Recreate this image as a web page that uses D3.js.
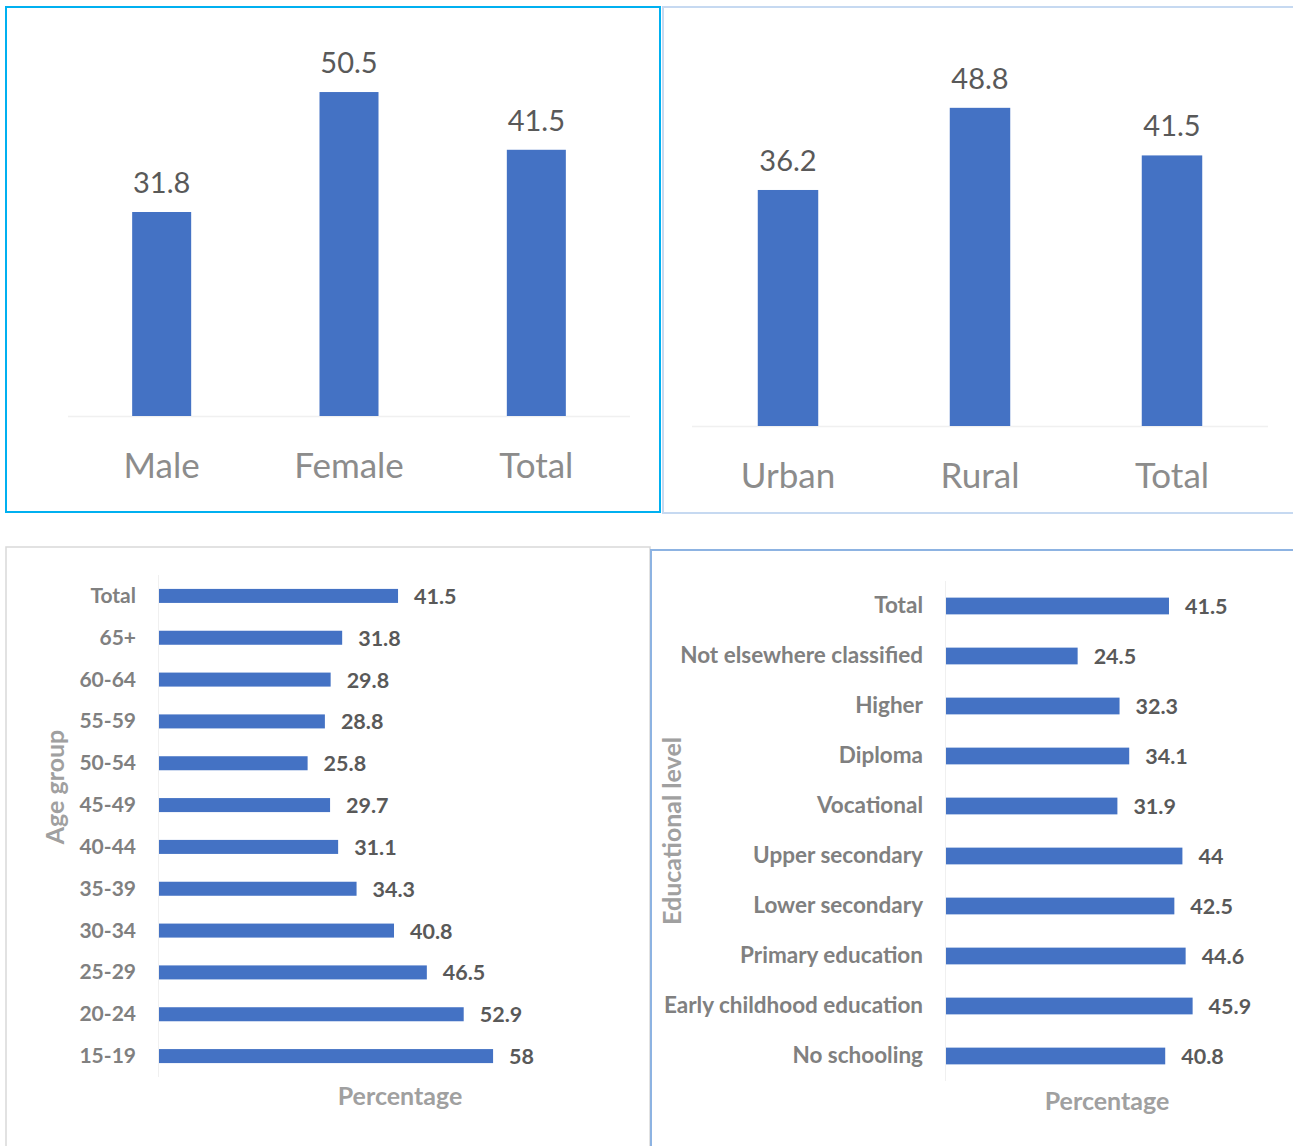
<!DOCTYPE html>
<html>
<head>
<meta charset="utf-8">
<script src="https://cdn.jsdelivr.net/npm/d3@7"></script>
<style>
  html, body { margin: 0; padding: 0; background: #fff; }
  svg { display: block; font-family: Lato, "Open Sans", sans-serif; }
</style>
</head>
<body>
<svg id="chart" width="1293" height="1146"></svg>
<script>
// Share by sex
const sexCategories = ["Male", "Female", "Total"];
const sexValues = [31.8, 50.5, 41.5];

// Share by area of residence
const areaCategories = ["Urban", "Rural", "Total"];
const areaValues = [36.2, 48.8, 41.5];

// Share by age group
const ageGroups = ["Total", "65+", "60-64", "55-59", "50-54", "45-49", "40-44",
                   "35-39", "30-34", "25-29", "20-24", "15-19"];
const ageValues = [41.5, 31.8, 29.8, 28.8, 25.8, 29.7, 31.1, 34.3, 40.8, 46.5, 52.9, 58];

// Share by educational level
const eduLevels = ["Total", "Not elsewhere classified", "Higher", "Diploma", "Vocational",
                   "Upper secondary", "Lower secondary", "Primary education",
                   "Early childhood education", "No schooling"];
const eduValues = [41.5, 24.5, 32.3, 34.1, 31.9, 44, 42.5, 44.6, 45.9, 40.8];

const axisTitle = "Percentage";
const ageTitle = "Age group";
const eduTitle = "Educational level";

const BAR = "#4472c4";
const svg = d3.select("#chart");

// Panel frames
function frame(x, y, w, h, color, sw) {
  svg.append("rect").attr("x", x).attr("y", y).attr("width", w).attr("height", h)
    .attr("fill", "none").attr("stroke", color).attr("stroke-width", sw);
}
frame(6, 547, 644, 640, "#d9d9d9", 1.5);
frame(651, 550, 700, 640, "#8db3e2", 2);
frame(663, 7, 700, 506, "#c6d9f1", 2);
frame(6, 7, 654, 505, "#00b0f0", 2);

// Vertical column chart
function columnChart(cats, vals, x0, x1, base, pxPerUnit) {
  const x = d3.scaleBand().domain(cats).range([x0, x1]).paddingInner(0.685).paddingOuter(0.3425);
  const y = d3.scaleLinear().domain([0, 60]).range([base, base - 60 * pxPerUnit]);
  const g = svg.append("g");
  g.append("line").attr("x1", x0).attr("x2", x1).attr("y1", base + 0.5).attr("y2", base + 0.5)
    .attr("stroke", "#f0f0f0").attr("stroke-width", 1.5);
  g.selectAll("rect.bar").data(vals).join("rect").attr("class", "bar")
    .attr("x", (d, i) => x(cats[i])).attr("width", x.bandwidth())
    .attr("y", d => y(d)).attr("height", d => y(0) - y(d)).attr("fill", BAR);
  g.selectAll("text.val").data(vals).join("text").attr("class", "val")
    .attr("x", (d, i) => x(cats[i]) + x.bandwidth() / 2).attr("y", d => y(d) - 19)
    .attr("text-anchor", "middle").attr("font-size", 29).attr("fill", "#595959")
    .text(d => d);
  g.selectAll("text.cat").data(cats).join("text").attr("class", "cat")
    .attr("x", d => x(d) + x.bandwidth() / 2).attr("y", base + 62)
    .attr("text-anchor", "middle").attr("font-size", 35).attr("fill", "#8c8c8c")
    .text(d => d);
}
columnChart(sexCategories, sexValues, 68, 630, 416, 6.415);
columnChart(areaCategories, areaValues, 692, 1268, 426, 6.52);

// Horizontal bar chart
function barChart(cats, vals, axisX, y0, y1, pxPerUnit, catSize, title, titleX, titleY, pctX, pctY) {
  const y = d3.scaleBand().domain(cats).range([y0, y1]).paddingInner(0.665).paddingOuter(0.3325);
  const x = d3.scaleLinear().domain([0, 60]).range([axisX + 1, axisX + 1 + 60 * pxPerUnit]);
  const g = svg.append("g");
  g.append("line").attr("x1", axisX + 0.5).attr("x2", axisX + 0.5).attr("y1", y0).attr("y2", y1)
    .attr("stroke", "#f0f0f0").attr("stroke-width", 1);
  g.selectAll("rect.bar").data(vals).join("rect").attr("class", "bar")
    .attr("x", x(0)).attr("width", d => x(d) - x(0))
    .attr("y", (d, i) => y(cats[i])).attr("height", y.bandwidth()).attr("fill", BAR);
  g.selectAll("text.val").data(vals).join("text").attr("class", "val")
    .attr("x", d => x(d) + 16).attr("y", (d, i) => y(cats[i]) + y.bandwidth() / 2 + 8)
    .attr("font-size", 21.5).attr("font-weight", 700).attr("fill", "#595959")
    .text(d => d);
  g.selectAll("text.cat").data(cats).join("text").attr("class", "cat")
    .attr("x", axisX - 22).attr("y", d => y(d) + y.bandwidth() / 2 + 7)
    .attr("text-anchor", "end").attr("font-size", catSize).attr("font-weight", 700).attr("fill", "#808080")
    .text(d => d);
  g.append("text").attr("transform", `translate(${titleX},${titleY}) rotate(-90)`)
    .attr("text-anchor", "middle").attr("font-size", 25).attr("font-weight", 700).attr("fill", "#a0a0a0")
    .text(title);
  g.append("text").attr("x", pctX).attr("y", pctY)
    .attr("text-anchor", "middle").attr("font-size", 25).attr("font-weight", 700).attr("fill", "#a0a0a0")
    .text(axisTitle);
}
barChart(ageGroups, ageValues, 158, 575, 1077, 5.76, 21, ageTitle, 64, 787, 400, 1105);
barChart(eduLevels, eduValues, 945, 581, 1081, 5.373, 22.5, eduTitle, 681, 831, 1107, 1110);
</script>
</body>
</html>
